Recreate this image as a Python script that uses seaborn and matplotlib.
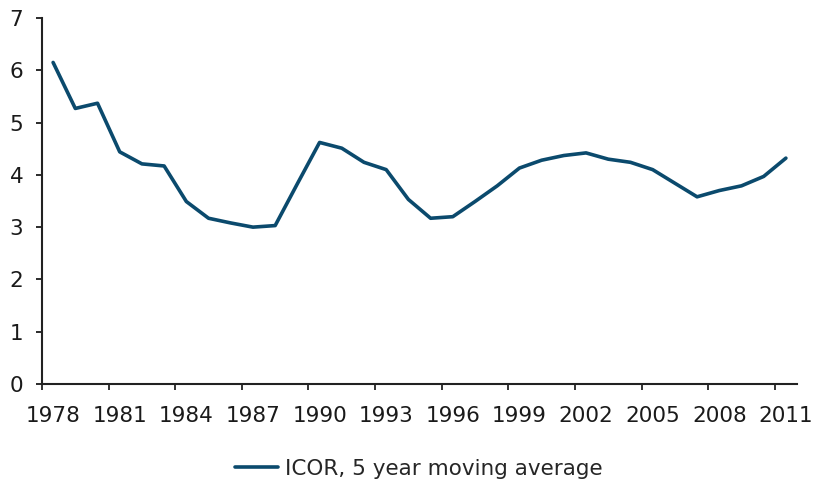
import numpy as np
import pandas as pd
import matplotlib
matplotlib.use("Agg")
import matplotlib.pyplot as plt
import seaborn as sns

# Data (ICOR, 5 year moving average)
years = list(range(1978, 2012))
icor = [6.15, 5.27, 5.37, 4.44, 4.21, 4.17, 3.49, 3.17, 3.08, 3.00,
        3.03, 3.83, 4.62, 4.51, 4.24, 4.10, 3.53, 3.17, 3.20, 3.49,
        3.79, 4.13, 4.28, 4.37, 4.42, 4.30, 4.24, 4.10, 3.84, 3.58,
        3.70, 3.79, 3.97, 4.32]
tick_years = list(range(1978, 2012, 3))
y_ticks = [0, 1, 2, 3, 4, 5, 6, 7]

df = pd.DataFrame({"pos": np.arange(len(years)), "year": years, "value": icor})

sns.set_theme(style="white")
plt.rcParams['font.family'] = ['DejaVu Sans']

fig = plt.figure(figsize=(8.13, 4.8), dpi=100)
ax = fig.add_axes([42 / 813, 1 - 384 / 480, 755 / 813, 366 / 480])

sns.lineplot(data=df, x="pos", y="value", ax=ax, color="#0b4a6d",
             linewidth=2.6, label="ICOR, 5 year moving average", legend=False)

# category-style axis: labels centred on years, ticks at boundaries
ax.set_xlim(-0.5, len(years) - 0.5)
ax.set_ylim(0, 7)
label_pos = [years.index(y) for y in tick_years]
ax.set_xticks(label_pos)
ax.set_xticklabels([str(y) for y in tick_years])
ax.set_xticks([p - 0.5 for p in label_pos], minor=True)
ax.tick_params(axis="x", which="major", length=0, pad=16, labelsize=15.5,
               colors="#1a1a1a")
ax.tick_params(axis="x", which="minor", length=4.5, width=1.3, direction="out",
               color="#222222", bottom=True)
ax.set_yticks(y_ticks)
ax.tick_params(axis="y", length=4.5, width=1.3, pad=9, labelsize=15.5,
               colors="#1a1a1a", left=True)

for s in ["top", "right"]:
    ax.spines[s].set_visible(False)
for s in ["left", "bottom"]:
    ax.spines[s].set_color("#222222")
    ax.spines[s].set_linewidth(1.5)

ax.set_xlabel("")
ax.set_ylabel("")

handles, labels = ax.get_legend_handles_labels()
fig.legend(handles, labels, loc="center", bbox_to_anchor=(419 / 813, 1 - 469 / 480),
           frameon=False, fontsize=15.5, handlelength=2.0, handletextpad=0.35)

fig.savefig("out.png", dpi=100)
